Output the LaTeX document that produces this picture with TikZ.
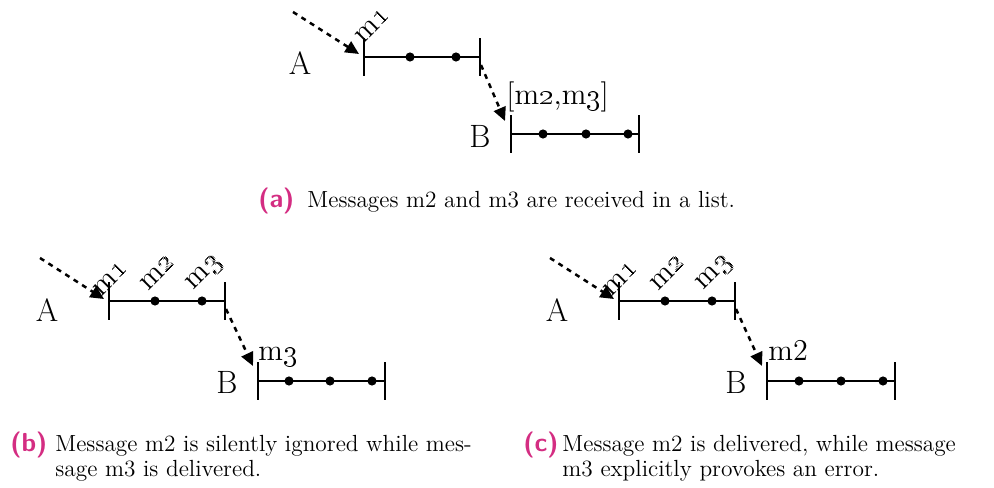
\documentclass[tikz,border=0pt]{standalone}
\usetikzlibrary{arrows.meta}
\definecolor{subcap}{RGB}{212,45,130}
\newcommand{\osn}[1]{\oldstylenums{#1}}
\tikzset{
  bar/.style={line width=1.4pt},
  tick/.style={line width=1.4pt},
  dot/.style={circle,fill=black,inner sep=0pt,minimum size=4.4pt},
  msgflow/.style={line width=1.2pt,dash pattern=on 2.4pt off 2.4pt,
    -{Triangle[length=6.5pt,width=6pt]}},
  proc/.style={inner sep=0pt,anchor=base,font=\fontsize{15.5}{18}\selectfont},
  msg/.style={inner sep=0pt,font=\fontsize{14.5}{16}\selectfont},
  rmsg/.style={msg,rotate=45,anchor=south west},
  captag/.style={inner sep=0pt,anchor=base west,text=subcap,
    font=\fontsize{12.5}{12}\sffamily\bfseries\selectfont},
  captext/.style={inner sep=0pt,anchor=base west,align=left,
    font=\fontsize{11.2}{12}\selectfont},
}
\begin{document}
\begin{tikzpicture}[x=0.48pt,y=-0.48pt]
\useasboundingbox (0,0) rectangle (994,488);

% ---------- panel (a): messages received as a list ----------
\begin{scope}[shift={(364,57)}]
  \coordinate (aS) at (-71,-45);
  \coordinate (a0) at (0,0);
  \coordinate (a1) at (46,0);
  \coordinate (a2) at (92,0);
  \coordinate (a3) at (116,0);
  \coordinate (b0) at (147,77);
  \coordinate (b1) at (179,77);
  \coordinate (b2) at (222,77);
  \coordinate (b3) at (264,77);
  \coordinate (b4) at (275,77);
  \node[proc] (aA) at ([shift={(-64,18)}]a0) {A};
  \node[proc] (aB) at ([shift={(-31,14)}]b0) {B};
  \draw[bar] (a0) -- (a3);
  \draw[tick] ([yshift=-9]a0) -- ([yshift=9]a0);
  \draw[tick] ([yshift=-9]a3) -- ([yshift=9]a3);
  \node[dot] at (a1) {};
  \node[dot] at (a2) {};
  \draw[bar] (b0) -- (b4);
  \draw[tick] ([yshift=-9]b0) -- ([yshift=9]b0);
  \draw[tick] ([yshift=-9]b4) -- ([yshift=9]b4);
  \node[dot] at (b1) {};
  \node[dot] at (b2) {};
  \node[dot] at (b3) {};
  \draw[msgflow] (aS) -- ([shift={(-5,-3)}]a0);
  \draw[msgflow] ([shift={(1,8)}]a3) -- ([shift={(-6,-13)}]b0);
  \node[rmsg] (am1) at ([shift={(-1,-12)}]a0) {m\osn{1}};
  \node[msg,anchor=base west] (alist) at ([shift={(-5,-29)}]b0) {[m\osn{2},m\osn{3}]};
\end{scope}
\node[captag] (tagA) at (258,208) {(a)};
\node[captext] (capA) at (307,208) {Messages m2 and m3 are received in a list.};

% ---------- panel (b): m2 silently ignored ----------
\begin{scope}[shift={(109,301)}]
  \coordinate (bS) at (-69,-43);
  \coordinate (c0) at (0,0);
  \coordinate (c1) at (46,0);
  \coordinate (c2) at (93,0);
  \coordinate (c3) at (116,0);
  \coordinate (d0) at (149,80);
  \coordinate (d1) at (180,80);
  \coordinate (d2) at (221,80);
  \coordinate (d3) at (263,80);
  \coordinate (d4) at (276,80);
  \node[proc] (bA) at ([shift={(-62,21)}]c0) {A};
  \node[proc] (bB) at ([shift={(-31,12)}]d0) {B};
  \draw[bar] (c0) -- (c3);
  \draw[tick] ([yshift=-9]c0) -- ([yshift=9]c0);
  \draw[tick] ([yshift=-9]c3) -- ([yshift=9]c3);
  \node[dot] at (c1) {};
  \node[dot] at (c2) {};
  \draw[bar] (d0) -- (d4);
  \draw[tick] ([yshift=-9]d0) -- ([yshift=9]d0);
  \draw[tick] ([yshift=-9]d4) -- ([yshift=9]d4);
  \node[dot] at (d1) {};
  \node[dot] at (d2) {};
  \node[dot] at (d3) {};
  \draw[msgflow] (bS) -- ([shift={(-5,-2)}]c0);
  \draw[msgflow] ([shift={(1,8)}]c3) -- ([shift={(-5,-15)}]d0);
  \node[rmsg] (bm1) at ([shift={(-8,-3)}]c0) {m\osn{1}};
  \node[rmsg] (bm2) at ([shift={(-7,-9)}]c1) {m\osn{2}};
  \node[rmsg] (bm3) at ([shift={(-4,-6)}]c2) {m\osn{3}};
  \node[msg,anchor=base west] (bout) at ([shift={(0,-21)}]d0) {m\osn{3}};
\end{scope}
\node[captag] (tagB) at (10,451) {(b)};
\node[captext] (capB) at (55,476) {Message m2 is silently ignored while mes-\\sage m3 is delivered.};

% ---------- panel (c): m3 provokes an error ----------
\begin{scope}[shift={(619,301)}]
  \coordinate (eS) at (-69,-43);
  \coordinate (e0) at (0,0);
  \coordinate (e1) at (46,0);
  \coordinate (e2) at (93,0);
  \coordinate (e3) at (116,0);
  \coordinate (f0) at (148,80);
  \coordinate (f1) at (180,80);
  \coordinate (f2) at (222,80);
  \coordinate (f3) at (264,80);
  \coordinate (f4) at (276,80);
  \node[proc] (cA) at ([shift={(-62,21)}]e0) {A};
  \node[proc] (cB) at ([shift={(-31,12)}]f0) {B};
  \draw[bar] (e0) -- (e3);
  \draw[tick] ([yshift=-9]e0) -- ([yshift=9]e0);
  \draw[tick] ([yshift=-9]e3) -- ([yshift=9]e3);
  \node[dot] at (e1) {};
  \node[dot] at (e2) {};
  \draw[bar] (f0) -- (f4);
  \draw[tick] ([yshift=-9]f0) -- ([yshift=9]f0);
  \draw[tick] ([yshift=-9]f4) -- ([yshift=9]f4);
  \node[dot] at (f1) {};
  \node[dot] at (f2) {};
  \node[dot] at (f3) {};
  \draw[msgflow] (eS) -- ([shift={(-5,-2)}]e0);
  \draw[msgflow] ([shift={(1,8)}]e3) -- ([shift={(-5,-15)}]f0);
  \node[rmsg] (cm1) at ([shift={(-8,-3)}]e0) {m\osn{1}};
  \node[rmsg] (cm2) at ([shift={(-7,-9)}]e1) {m\osn{2}};
  \node[rmsg] (cm3) at ([shift={(-4,-6)}]e2) {m\osn{3}};
  \node[msg,anchor=base west] (cout) at ([shift={(1,-21)}]f0) {m2};
\end{scope}
\node[captag] (tagC) at (523,451) {(c)};
\node[captext] (capC) at (562,476) {Message m2 is delivered, while message\\m3 explicitly provokes an error.};
\end{tikzpicture}
\end{document}
